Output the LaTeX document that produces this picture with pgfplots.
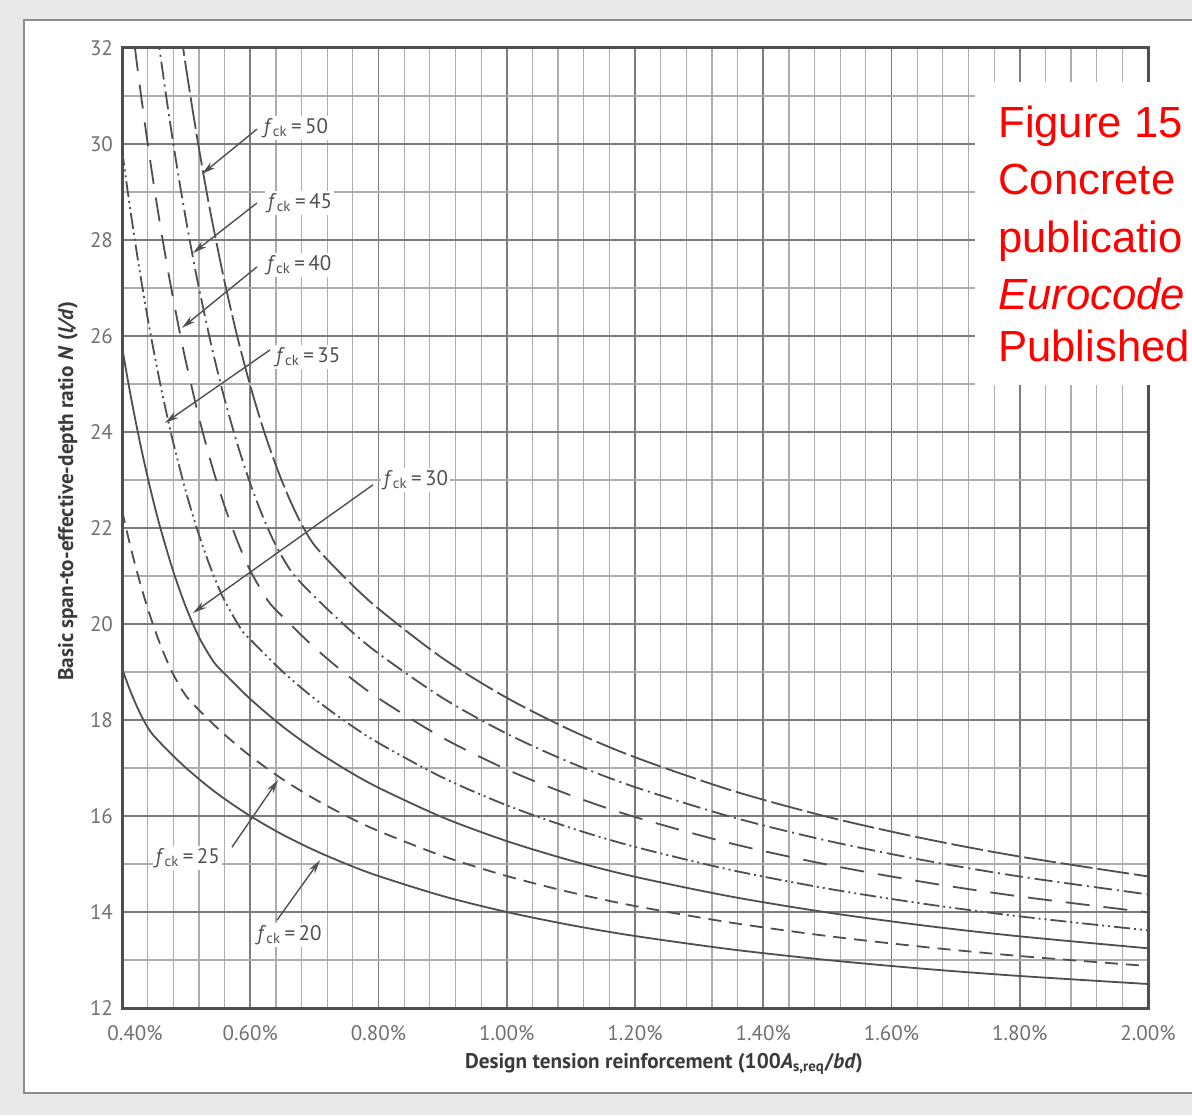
\documentclass[border=0pt]{standalone}
\usepackage{pgfplots}
\pgfplotsset{compat=1.18}
\usepackage{fontspec}
\setmainfont{PT Sans}
\newfontfamily\redfont{Liberation Sans}
\usetikzlibrary{arrows.meta}
\definecolor{curve}{HTML}{4F4F4F}
\definecolor{gmaj}{HTML}{7C7C7C}
\definecolor{gmin}{HTML}{ADADAD}
\definecolor{ticklab}{HTML}{707070}
\definecolor{frame}{HTML}{8C8C8C}
\definecolor{pagebg}{HTML}{E9E9E9}
\definecolor{ann}{HTML}{505050}
\definecolor{axlab}{HTML}{3A3A3A}
\begin{document}
\begin{tikzpicture}
\useasboundingbox (0pt,0pt) rectangle (596pt,557.5pt);
\clip (0pt,0pt) rectangle (596pt,557.5pt);
\fill[pagebg] (0pt,0pt) rectangle (596pt,557.5pt);
\filldraw[fill=white, draw=frame, line width=1pt] (12pt,11pt) rectangle (640pt,547.5pt);
\begin{axis}[
  at={(61pt,53.5pt)}, anchor=south west,
  width=513pt, height=480pt, scale only axis,
  xmin=0.4, xmax=2.0, ymin=12, ymax=32,
  xtick={0.4,0.6,0.8,1.0,1.2,1.4,1.6,1.8,2.0},
  xticklabels={\hspace*{13pt}0.40\%,0.60\%,0.80\%,1.00\%,1.20\%,1.40\%,1.60\%,1.80\%,2.00\%},
  ytick={12,14,16,18,20,22,24,26,28,30,32},
  yticklabels={12,14,16,18,20,22,24,26,28,30,32},
  minor x tick num=4, minor y tick num=1,
  grid=both,
  major grid style={draw=gmaj, line width=0.9pt},
  minor grid style={draw=gmin, line width=0.6pt},
  major tick length=0pt, minor tick length=0pt,
  axis line style={draw=curve, line width=1.5pt},
  tick label style={font=\fontsize{10.5}{12}\selectfont, text=ticklab},
  xticklabel style={yshift=-5pt},
  yticklabel style={xshift=-1pt},
]
% fck = 20
\addplot[curve, line width=0.9pt, smooth] coordinates {
(0.40,19.080)(0.41,18.708)(0.42,18.379)(0.43,18.091)(0.44,17.848)(0.4472,17.708)
(0.46,17.522)(0.48,17.250)(0.50,17.000)(0.53,16.660)(0.56,16.357)(0.60,16.000)
(0.65,15.615)(0.70,15.286)(0.75,15.000)(0.80,14.750)(0.90,14.333)(1.00,14.000)
(1.10,13.727)(1.20,13.500)(1.35,13.222)(1.50,13.000)(1.65,12.818)(1.80,12.667)(2.00,12.500)};
% fck = 25
\addplot[curve, line width=0.9pt, smooth, dash pattern=on 6.5pt off 4pt] coordinates {
(0.40,22.375)(0.41,21.792)(0.42,21.259)(0.43,20.772)(0.44,20.329)(0.45,19.926)
(0.46,19.562)(0.47,19.237)(0.48,18.949)(0.50,18.500)(0.53,18.075)(0.56,17.696)
(0.60,17.250)(0.65,16.769)(0.70,16.357)(0.75,16.000)(0.80,15.688)(0.90,15.167)
(1.00,14.750)(1.10,14.409)(1.20,14.125)(1.35,13.778)(1.50,13.500)(1.65,13.273)(1.80,13.083)(2.00,12.875)};
% fck = 30
\addplot[curve, line width=0.9pt, smooth] coordinates {
(0.40,25.778)(0.41,25.013)(0.42,24.308)(0.43,23.657)(0.44,23.056)(0.45,22.503)
(0.46,21.993)(0.48,21.094)(0.50,20.342)(0.52,19.729)(0.5427,19.216)(0.56,18.965)
(0.60,18.438)(0.65,17.870)(0.70,17.383)(0.75,16.960)(0.80,16.590)(0.90,15.972)
(1.00,15.478)(1.10,15.072)(1.20,14.734)(1.35,14.321)(1.50,13.990)(1.65,13.719)(1.80,13.493)(2.00,13.244)};
% fck = 35
\addplot[curve, line width=0.9pt, smooth, dash pattern=on 8pt off 2pt on 1pt off 2pt on 1pt off 2pt] coordinates {
(0.40,29.884)(0.41,28.906)(0.42,28.000)(0.43,27.158)(0.44,26.378)(0.45,25.653)
(0.46,24.980)(0.47,24.355)(0.48,23.776)(0.50,22.741)(0.52,21.856)(0.54,21.107)
(0.56,20.486)(0.5866,19.874)(0.60,19.678)(0.65,19.015)(0.70,18.447)(0.75,17.954)
(0.80,17.522)(0.90,16.801)(1.00,16.224)(1.10,15.751)(1.20,15.357)(1.35,14.875)
(1.50,14.488)(1.65,14.172)(1.80,13.909)(2.00,13.618)};
% fck = 40
\addplot[curve, line width=0.9pt, smooth, dash pattern=on 12pt off 7pt] coordinates {
(0.42,32.020)(0.425,31.492)(0.43,30.983)(0.44,30.017)(0.45,29.116)(0.46,28.277)
(0.47,27.494)(0.48,26.764)(0.49,26.083)(0.50,25.447)(0.52,24.303)(0.54,23.310)
(0.56,22.454)(0.58,21.724)(0.60,21.113)(0.6275,20.487)(0.65,20.160)(0.70,19.511)
(0.75,18.947)(0.80,18.453)(0.90,17.630)(1.00,16.970)(1.10,16.430)(1.20,15.979)
(1.35,15.428)(1.50,14.987)(1.65,14.625)(1.80,14.324)(2.00,13.993)};
% fck = 45
\addplot[curve, line width=0.9pt, smooth, dash pattern=on 9pt off 2.5pt on 1pt off 2.5pt] coordinates {
(0.455,32.334)(0.46,31.838)(0.47,30.893)(0.48,30.008)(0.49,29.180)(0.50,28.405)
(0.51,27.679)(0.52,26.999)(0.54,25.766)(0.56,24.687)(0.58,23.745)(0.60,22.927)
(0.62,22.226)(0.64,21.637)(0.6658,21.062)(0.70,20.574)(0.75,19.940)(0.80,19.385)
(0.90,18.459)(1.00,17.716)(1.10,17.109)(1.20,16.602)(1.35,15.982)(1.50,15.485)
(1.65,15.079)(1.80,14.740)(2.00,14.367)};
% fck = 50
\addplot[curve, line width=0.9pt, smooth, dash pattern=on 16pt off 2.5pt] coordinates {
(0.49,32.498)(0.495,32.030)(0.50,31.580)(0.51,30.718)(0.52,29.908)(0.53,29.147)
(0.54,28.432)(0.56,27.129)(0.58,25.978)(0.60,24.966)(0.62,24.077)(0.64,23.304)
(0.66,22.639)(0.68,22.080)(0.7021,21.607)(0.75,20.934)(0.80,20.317)(0.90,19.287)
(1.00,18.463)(1.10,17.787)(1.20,17.224)(1.35,16.535)(1.50,15.983)(1.65,15.532)
(1.80,15.155)(2.00,14.741)};
% annotations
\tikzset{annarrow/.style={draw=ann, line width=0.7pt, -{Stealth[length=7pt,width=3.6pt]}},
         annlab/.style={fill=white, inner sep=1.2pt, text=ann, font=\fontsize{10.5}{12}\selectfont}}
\draw[annarrow] (axis cs:0.6105,30.31) -- (axis cs:0.5248,29.375);
\node[annlab, anchor=west] at (axis cs:0.617,30.33) {\textit{f}\textsubscript{ck}\,=\,50};
\draw[annarrow] (axis cs:0.6105,28.77) -- (axis cs:0.5107,27.73);
\node[annlab, anchor=west] at (axis cs:0.623,28.77) {\textit{f}\textsubscript{ck}\,=\,45};
\draw[annarrow] (axis cs:0.6105,27.44) -- (axis cs:0.4936,26.17);
\node[annlab, anchor=west] at (axis cs:0.622,27.48) {\textit{f}\textsubscript{ck}\,=\,40};
\draw[annarrow] (axis cs:0.6308,25.71) -- (axis cs:0.4671,24.19);
\node[annlab, anchor=west] at (axis cs:0.636,25.56) {\textit{f}\textsubscript{ck}\,=\,35};
\draw[annarrow] (axis cs:0.7914,22.90) -- (axis cs:0.5107,20.23);
\node[annlab, anchor=west] at (axis cs:0.804,23.0) {\textit{f}\textsubscript{ck}\,=\,30};
\draw[annarrow] (axis cs:0.5715,15.35) -- (axis cs:0.6433,16.75);
\node[annlab, anchor=east] at (axis cs:0.557,15.13) {\textit{f}\textsubscript{ck}\,=\,25};
\draw[annarrow] (axis cs:0.6417,13.83) -- (axis cs:0.7088,15.08);
\node[annlab, anchor=center] at (axis cs:0.6612,13.52) {\textit{f}\textsubscript{ck}\,=\,20};
\end{axis}
% axis labels
\node[text=axlab, font=\bfseries\fontsize{10.6}{12}\selectfont] at (332pt,25.5pt)
  {Design tension reinforcement (100\textit{A}\textsubscript{s,req}/\textit{bd})};
\node[text=axlab, font=\bfseries\fontsize{10.6}{12}\selectfont, rotate=90] at (34pt,312pt)
  {Basic span-to-effective-depth ratio \textit{N} (\textit{l/d})};
% red annotation box (cut off at the right edge, as in the reference)
\fill[white] (487.5pt,365pt) rectangle (620pt,516.5pt);
\begin{scope}[every node/.style={anchor=base west, inner sep=0pt, text=red, font=\redfont\fontsize{21.8}{27}\selectfont}]
\node at (499pt,488.5pt) {Figure 15};
\node at (499pt,460pt) {Concrete};
\node at (499pt,431pt) {publicatio};
\node at (499pt,402.5pt) {\textit{Eurocode}};
\node at (499pt,376.5pt) {Published};
\end{scope}
\end{tikzpicture}
\end{document}
